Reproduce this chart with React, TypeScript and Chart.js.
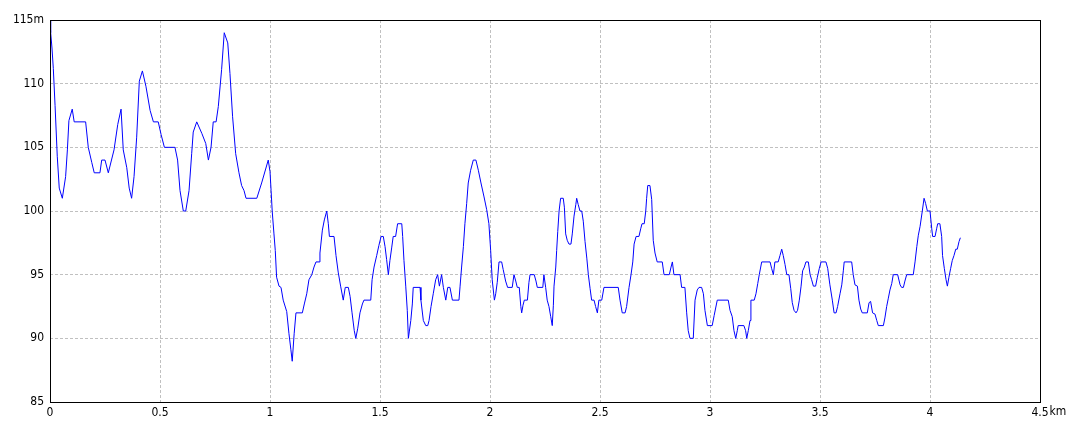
import React, { useEffect, useRef } from "react";
import { Chart, registerables } from "chart.js";

Chart.register(...registerables);

// distance along the route (km)
const distKm: number[] = [
  0, 0.003, 0.009, 0.015, 0.023, 0.033, 0.042, 0.056, 0.071, 0.079, 0.086, 0.101, 0.11, 0.162, 0.174, 0.19, 0.201, 0.227, 0.235, 0.25,
  0.265, 0.291, 0.308, 0.323, 0.333, 0.349, 0.36, 0.371, 0.382, 0.394, 0.406, 0.42, 0.436, 0.455, 0.47, 0.492, 0.505, 0.52, 0.568, 0.58,
  0.591, 0.606, 0.617, 0.632, 0.644, 0.651, 0.667, 0.69, 0.708, 0.72, 0.732, 0.742, 0.755, 0.765, 0.78, 0.792, 0.808, 0.818, 0.83, 0.844,
  0.859, 0.871, 0.882, 0.891, 0.94, 0.962, 0.992, 1.0, 1.005, 1.01, 1.018, 1.024, 1.03, 1.041, 1.05, 1.06, 1.076, 1.086, 1.095, 1.101,
  1.11, 1.118, 1.147, 1.156, 1.167, 1.177, 1.19, 1.2, 1.209, 1.223, 1.227, 1.238, 1.247, 1.258, 1.265, 1.27, 1.291, 1.3, 1.31, 1.321,
  1.333, 1.342, 1.356, 1.364, 1.373, 1.383, 1.39, 1.399, 1.409, 1.42, 1.427, 1.458, 1.464, 1.473, 1.485, 1.495, 1.505, 1.515, 1.523, 1.53,
  1.538, 1.545, 1.553, 1.56, 1.571, 1.58, 1.599, 1.603, 1.609, 1.617, 1.624, 1.629, 1.633, 1.64, 1.647, 1.651, 1.682, 1.686, 1.697, 1.708,
  1.717, 1.723, 1.732, 1.742, 1.753, 1.762, 1.77, 1.78, 1.788, 1.799, 1.808, 1.818, 1.829, 1.859, 1.864, 1.871, 1.879, 1.886, 1.894, 1.901,
  1.912, 1.924, 1.936, 1.947, 1.959, 1.973, 1.985, 1.995, 2.003, 2.01, 2.02, 2.026, 2.033, 2.041, 2.053, 2.06, 2.071, 2.08, 2.101, 2.109,
  2.117, 2.124, 2.133, 2.14, 2.144, 2.15, 2.156, 2.17, 2.177, 2.182, 2.201, 2.209, 2.215, 2.24, 2.245, 2.253, 2.26, 2.268, 2.276, 2.283,
  2.288, 2.291, 2.299, 2.303, 2.308, 2.314, 2.321, 2.333, 2.338, 2.344, 2.351, 2.359, 2.368, 2.374, 2.382, 2.39, 2.394, 2.401, 2.409, 2.417,
  2.424, 2.432, 2.44, 2.447, 2.455, 2.462, 2.473, 2.48, 2.488, 2.495, 2.508, 2.518, 2.583, 2.591, 2.601, 2.614, 2.621, 2.632, 2.641, 2.649,
  2.655, 2.664, 2.677, 2.685, 2.691, 2.701, 2.708, 2.712, 2.717, 2.727, 2.735, 2.742, 2.75, 2.76, 2.783, 2.791, 2.815, 2.823, 2.829, 2.836,
  2.864, 2.871, 2.886, 2.894, 2.901, 2.909, 2.924, 2.932, 2.942, 2.95, 2.962, 2.97, 2.977, 2.988, 3.01, 3.019, 3.033, 3.083, 3.091, 3.101,
  3.109, 3.117, 3.124, 3.128, 3.154, 3.162, 3.167, 3.174, 3.182, 3.186, 3.201, 3.209, 3.217, 3.224, 3.235, 3.273, 3.28, 3.288, 3.295, 3.31,
  3.318, 3.326, 3.333, 3.341, 3.349, 3.359, 3.367, 3.374, 3.382, 3.391, 3.398, 3.406, 3.414, 3.421, 3.429, 3.436, 3.447, 3.455, 3.462, 3.47,
  3.48, 3.488, 3.497, 3.505, 3.527, 3.535, 3.545, 3.556, 3.564, 3.573, 3.58, 3.591, 3.599, 3.606, 3.61, 3.644, 3.651, 3.659, 3.67, 3.677,
  3.685, 3.692, 3.715, 3.723, 3.73, 3.739, 3.75, 3.758, 3.765, 3.788, 3.795, 3.803, 3.81, 3.818, 3.826, 3.833, 3.853, 3.864, 3.871, 3.879,
  3.886, 3.894, 3.924, 3.932, 3.94, 3.947, 3.955, 3.965, 3.973, 3.98, 3.988, 4.0, 4.008, 4.012, 4.023, 4.03, 4.035, 4.045, 4.053, 4.057,
  4.065, 4.073, 4.079, 4.086, 4.094, 4.101, 4.109, 4.117, 4.124, 4.132, 4.138,
];

// elevation (m)
const elevM: number[] = [
  115, 114, 112.8, 111.2, 108.3, 104.3, 101.8, 101, 102.7, 104.8, 107.1, 108, 107, 107, 105, 103.8, 103, 103, 104, 104,
  103, 104.8, 106.8, 108, 104.8, 103.4, 101.8, 101, 102.7, 105.8, 110.2, 111, 109.8, 107.9, 107, 107, 106, 105, 105, 104,
  101.6, 100, 100, 101.6, 104.5, 106.2, 107, 106.1, 105.3, 104, 105, 107, 107, 108.2, 111.1, 114, 113.2, 110.8, 107.4, 104.5,
  103, 102, 101.6, 101, 101, 102.2, 104, 103.1, 101.6, 100, 98.2, 96.9, 94.8, 94.1, 94, 93, 92.1, 90.4, 89.1, 88.2,
  90.4, 92, 92, 92.7, 93.5, 94.6, 95, 95.6, 96, 96, 96.7, 98.5, 99.3, 100, 99, 98, 98, 96.5, 95.2, 94.1,
  93, 94, 94, 93.3, 92, 90.6, 90, 90.8, 92, 92.7, 93, 93, 94.6, 95.6, 96.5, 97.3, 98, 98, 97.2, 96.2,
  95, 96.1, 97.1, 98, 98, 99, 99, 98, 96.1, 94.1, 92.2, 90, 90.5, 91.4, 92.7, 94, 94, 93, 91.4, 91,
  91, 91.4, 92.5, 93.5, 94.6, 95, 94.1, 95, 94, 93, 94, 94, 93, 93, 94.1, 95.6, 97.2, 99, 100.6, 102.2,
  103.2, 104, 104, 103.2, 102.2, 101.1, 100.1, 99, 96.9, 94.6, 93, 93.5, 94.4, 96, 96, 95.4, 94.5, 94, 94, 95,
  94.5, 94, 94, 92.5, 92, 92.6, 93, 93, 94.4, 95, 95, 94.5, 94, 94, 95, 94, 93, 92.5, 91.7, 91,
  92.6, 94.1, 95.6, 96.9, 98.4, 100, 101, 101, 100.3, 98.2, 97.7, 97.4, 97.4, 98.2, 99.6, 100.5, 101, 100.5, 100, 100,
  99.2, 97.6, 96.3, 95, 93.9, 93, 93, 92.5, 92, 93, 93, 94, 94, 93, 92, 92, 92.5, 94, 95, 96,
  97.4, 98, 98, 98.6, 99, 99, 100, 101, 102, 102, 100.9, 97.7, 96.7, 96, 96, 95, 95, 95.6, 96, 95,
  95, 94, 94, 92, 90.6, 90, 90, 93, 93.8, 94, 94, 93.5, 92.2, 91, 91, 91.8, 93, 93, 92.2, 91.7,
  90.6, 90, 90.6, 91, 91, 90.6, 90, 90.6, 91.4, 93, 93, 93.5, 94.3, 95, 96, 96, 95.5, 95, 96, 96,
  96.5, 97, 96.5, 95.8, 95, 95, 93.9, 92.8, 92.2, 92, 92.2, 93, 94.1, 95.3, 95.6, 96, 96, 95, 94.6, 94.1,
  94.1, 94.8, 95.5, 96, 96, 95.5, 94.2, 93, 92, 92, 92.5, 93.5, 94.2, 95.3, 96, 96, 95, 94.2, 94.1, 93,
  92.3, 92, 92, 92.8, 92.9, 92, 91.9, 91.4, 91, 91, 91.6, 92.5, 93.1, 93.8, 94.3, 95, 95, 94.2, 94, 94,
  94.5, 95, 95, 96, 97.2, 98.1, 98.8, 100, 101, 100.6, 100, 100, 98.6, 98, 98, 98.6, 99, 99, 98, 96.5,
  95.5, 94.6, 94.1, 94.8, 95.5, 96.1, 96.5, 97, 97, 97.6, 97.9,
];

const xTicks: number[] = [0, 0.5, 1, 1.5, 2, 2.5, 3, 3.5, 4, 4.5];
const yTicks: number[] = [85, 90, 95, 100, 105, 110, 115];
const xUnit = "km";
const yUnit = "m";

const TICK_FONT = "'Liberation Sans Narrow', 'DejaVu Sans Condensed', 'Liberation Sans', sans-serif";

export default function App() {
  const ref = useRef<HTMLCanvasElement | null>(null);

  useEffect(() => {
    if (!ref.current) return;
    const points = distKm.map((d, i) => ({ x: d, y: elevM[i] }));
    const xMin = xTicks[0];
    const xMax = xTicks[xTicks.length - 1];
    const yMin = yTicks[0];
    const yMax = yTicks[yTicks.length - 1];

    const framePlugin = {
      id: "frame",
      afterDraw(chart: any) {
        const { ctx, chartArea } = chart;
        ctx.save();
        ctx.strokeStyle = "#000";
        ctx.lineWidth = 1;
        ctx.strokeRect(
          Math.round(chartArea.left) + 0.5,
          Math.round(chartArea.top) + 0.5,
          Math.round(chartArea.right - chartArea.left),
          Math.round(chartArea.bottom - chartArea.top)
        );
        // unit after the last x tick label
        const xs = chart.scales.x;
        const px = xs.getPixelForValue(xMax);
        ctx.font = "12px " + TICK_FONT;
        ctx.fillStyle = "#000";
        ctx.textBaseline = "middle";
        ctx.textAlign = "left";
        const w = ctx.measureText(String(xMax)).width;
        ctx.fillText(xUnit, px + w / 2 + 1, chartArea.bottom + 10);
        ctx.restore();
      },
    };

    const chart = new Chart(ref.current, {
      type: "line",
      data: {
        datasets: [
          {
            data: points,
            borderColor: "#0000ff",
            borderWidth: 1,
            pointRadius: 0,
            tension: 0,
            fill: false,
          },
        ],
      },
      options: {
        animation: false,
        responsive: false,
        parsing: true as any,
        layout: { padding: { top: 20, right: 40, left: 0, bottom: 0 } },
        plugins: { legend: { display: false }, tooltip: { enabled: false } },
        scales: {
          x: {
            type: "linear",
            min: xMin,
            max: xMax,
            afterBuildTicks(scale: any) {
              scale.ticks = xTicks.map((v) => ({ value: v }));
            },
            afterFit(scale: any) {
              scale.height = 30;
            },
            border: { display: false },
            grid: {
              drawTicks: false,
              color: (c: any) =>
                c.tick && (c.tick.value === xMin || c.tick.value === xMax) ? "rgba(0,0,0,0)" : "#c0c0c0",
              lineWidth: 1,
              tickBorderDash: [],
            } as any,
            ticks: {
              padding: 4,
              color: "#000",
              font: { size: 12, family: TICK_FONT },
              maxRotation: 0,
              autoSkip: false,
              callback: (v: any) => String(v),
            },
          },
          y: {
            type: "linear",
            min: yMin,
            max: yMax,
            afterBuildTicks(scale: any) {
              scale.ticks = yTicks.map((v) => ({ value: v }));
            },
            afterFit(scale: any) {
              scale.width = 50;
            },
            border: { display: false },
            grid: {
              drawTicks: false,
              color: (c: any) =>
                c.tick && (c.tick.value === yMin || c.tick.value === yMax) ? "rgba(0,0,0,0)" : "#c0c0c0",
              lineWidth: 1,
            },
            ticks: {
              padding: 6,
              color: "#000",
              font: { size: 12, family: TICK_FONT },
              autoSkip: false,
              callback: (v: any) => (v === yMax ? String(v) + yUnit : String(v)),
            },
          },
        },
      },
      plugins: [framePlugin],
    } as any);

    // dashed grid lines
    (chart.options.scales as any).x.border = { display: false, dash: [3, 2] };
    (chart.options.scales as any).y.border = { display: false, dash: [3, 2] };
    chart.update();

    return () => chart.destroy();
  }, []);

  return (
    <div style={{ position: "fixed", left: 0, top: 0, width: 1080, height: 432, background: "#fff" }}>
      <canvas ref={ref} width={1080} height={432} style={{ display: "block", width: 1080, height: 432 }} />
    </div>
  );
}
